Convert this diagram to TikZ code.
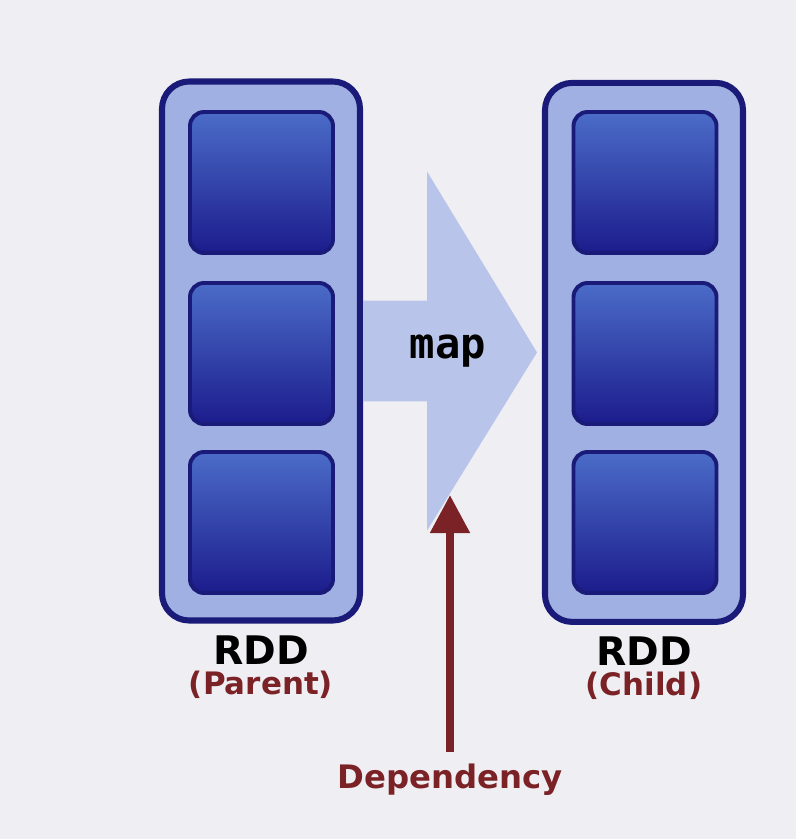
\documentclass[tikz,border=0pt]{standalone}
\usepackage{fontspec}
\setsansfont{DejaVu Sans}
\setmonofont{DejaVu Sans Mono}
\usepackage{xcolor}
\usepackage{tikz}
\usetikzlibrary{arrows.meta, positioning}
\definecolor{slide}{RGB}{239,239,243}
\definecolor{navy}{RGB}{26,26,120}
\definecolor{rddfill}{RGB}{160,176,226}
\definecolor{parttop}{RGB}{75,108,200}
\definecolor{partbottom}{RGB}{28,28,140}
\definecolor{mapfill}{RGB}{184,196,233}
\definecolor{depred}{RGB}{123,34,38}

\begin{document}
\begin{tikzpicture}[
  rdd/.style={rectangle, draw=navy, line width=4.3pt, rounded corners=0.68cm, fill=rddfill, minimum width=4.95cm, minimum height=13.475cm},
  part/.style={rectangle, draw=navy, line width=2.8pt, rounded corners=0.35cm, top color=parttop, bottom color=partbottom, minimum width=3.575cm, minimum height=3.525cm},
  rddname/.style={font=\sffamily\bfseries\fontsize{28}{30}\selectfont, inner sep=0pt},
  role/.style={font=\sffamily\bfseries\fontsize{22}{24}\selectfont, text=depred, inner sep=0pt},
  deparrow/.style={-{Triangle[length=0.95cm, width=0.95cm]}, line width=5.7pt, draw=depred}
]

% Slide background
\useasboundingbox (0,0) rectangle (19.9,-20.975);
\fill[slide] (0,0) rectangle (19.9,-20.975);

% Parent RDD
\node[rdd] (parent) at (6.525, -8.775) {};
\node[part] (pa) at (6.5375, -4.5625) {};
\node[part] (pb) at (6.5375, -8.8375) {};
\node[part] (pc) at (6.5375, -13.0625) {};

% Child RDD
\node[rdd] (child) at (16.1, -8.81) {};
\node[part] (ca) at (16.125, -4.5625) {};
\node[part] (cb) at (16.125, -8.8375) {};
\node[part] (cc) at (16.125, -13.0625) {};

% Labels
\node[rddname, below=0.3cm of parent] (parentrdd) {RDD};
\node[role, below=0.15cm of parentrdd] (parentrole) {(Parent)};
\node[rddname, below=0.3cm of child] (childrdd) {RDD};
\node[role, below=0.15cm of childrdd] (childrole) {(Child)};

% map arrow
\fill[mapfill] ([yshift=1.26cm]parent.east) -- ([xshift=1.6cm, yshift=1.26cm]parent.east)
  -- ([xshift=1.6cm, yshift=4.49cm]parent.east) -- ([xshift=-0.125cm]child.west)
  -- ([xshift=1.6cm, yshift=-4.49cm]parent.east) -- ([xshift=1.6cm, yshift=-1.26cm]parent.east)
  -- ([yshift=-1.26cm]parent.east) -- cycle;
\node[font=\ttfamily\bfseries\fontsize{30}{32}\selectfont, anchor=base] (maplabel) at (11.2, -8.95) {map};

% Dependency
\coordinate (deptip) at (11.25, -12.375);
\node[role, font=\sffamily\bfseries\fontsize{23}{25}\selectfont, anchor=north] (dep) at (11.25, -19.1) {Dependency};
\draw[deparrow, shorten <=0.3cm] (dep.north) -- (deptip);

\end{tikzpicture}
\end{document}
